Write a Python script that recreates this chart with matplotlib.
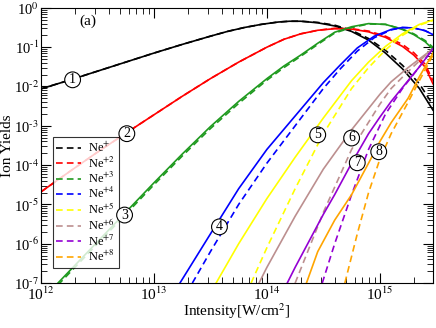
import matplotlib
matplotlib.use("Agg")
import matplotlib.pyplot as plt
from matplotlib.ticker import FuncFormatter
import numpy as np

plt.rcParams['font.family'] = ['Liberation Serif', 'DejaVu Serif']
plt.rcParams['mathtext.fontset'] = 'stix'

# log10 intensity (W/cm^2) and log10 yield
# solid curves
ne1_x = [12.0, 12.25, 12.5, 12.75, 13.0, 13.25, 13.5, 13.65, 13.8, 13.95, 14.1, 14.2, 14.3, 14.45, 14.6, 14.75, 14.9, 15.05, 15.2, 15.35, 15.47]
ne1_y = [-2.06, -1.84, -1.61, -1.38, -1.15, -0.93, -0.72, -0.6, -0.5, -0.42, -0.36, -0.34, -0.34, -0.38, -0.46, -0.6, -0.82, -1.15, -1.55, -2.05, -2.6]
ne2_x = [12.0, 12.25, 12.5, 12.75, 13.0, 13.25, 13.5, 13.75, 14.0, 14.15, 14.3, 14.45, 14.6, 14.75, 14.9, 15.05, 15.2, 15.3, 15.4, 15.47]
ne2_y = [-4.68, -4.17, -3.67, -3.19, -2.72, -2.25, -1.8, -1.38, -1.0, -0.8, -0.66, -0.57, -0.53, -0.54, -0.61, -0.75, -0.98, -1.2, -1.5, -1.93]
ne3_x = [12.15, 12.5, 12.75, 13.0, 13.25, 13.5, 13.75, 14.0, 14.15, 14.3, 14.45, 14.6, 14.75, 14.9, 15.05, 15.2, 15.3, 15.4, 15.47]
ne3_y = [-7.0, -5.95, -5.2, -4.45, -3.72, -3.02, -2.38, -1.8, -1.48, -1.2, -0.9, -0.62, -0.48, -0.4, -0.42, -0.55, -0.68, -0.86, -1.05]
ne4_x = [13.23, 13.5, 13.75, 14.0, 14.25, 14.5, 14.65, 14.8, 14.95, 15.1, 15.2, 15.3, 15.4, 15.47]
ne4_y = [-7.0, -5.75, -4.6, -3.6, -2.75, -1.9, -1.45, -1.02, -0.72, -0.55, -0.5, -0.51, -0.58, -0.68]
ne5_x = [13.55, 13.75, 14.0, 14.25, 14.5, 14.75, 14.9, 15.05, 15.2, 15.35, 15.47]
ne5_y = [-7.0, -6.0, -4.85, -3.8, -2.8, -1.85, -1.38, -0.98, -0.66, -0.42, -0.31]
ne6_x = [13.93, 14.0, 14.25, 14.5, 14.75, 15.0, 15.1, 15.25, 15.35, 15.47]
ne6_y = [-7.0, -6.6, -5.3, -4.1, -3.1, -2.2, -1.88, -1.52, -1.3, -1.04]
ne7_x = [14.18, 14.25, 14.5, 14.6, 14.75, 14.9, 15.0, 15.1, 15.25, 15.35, 15.47]
ne7_y = [-7.0, -6.6, -5.25, -4.75, -3.95, -3.2, -2.78, -2.38, -1.85, -1.5, -1.04]
ne8_x = [14.35, 14.45, 14.6, 14.75, 14.9, 15.0, 15.1, 15.25, 15.35, 15.47]
ne8_y = [-7.0, -6.2, -5.4, -4.75, -3.95, -3.4, -2.92, -2.3, -1.75, -1.15]

# dashed curves
ne1d_x = ne1_x
ne1d_y = [-2.06, -1.84, -1.61, -1.38, -1.15, -0.93, -0.72, -0.6, -0.5, -0.42, -0.36, -0.34, -0.34, -0.37, -0.44, -0.57, -0.78, -1.08, -1.46, -1.93, -2.47]
ne2d_x = ne2_x
ne2d_y = [-4.68, -4.17, -3.67, -3.19, -2.72, -2.25, -1.8, -1.38, -1.0, -0.8, -0.66, -0.57, -0.52, -0.53, -0.59, -0.72, -0.93, -1.14, -1.43, -1.85]
ne3d_x = ne3_x
ne3d_y = [-7.05, -6.0, -5.25, -4.5, -3.77, -3.07, -2.43, -1.84, -1.52, -1.23, -0.93, -0.64, -0.5, -0.41, -0.42, -0.54, -0.66, -0.83, -1.0]
ne4d_x = [13.34, 13.5, 13.75, 14.0, 14.25, 14.5, 14.65, 14.8, 14.95, 15.1, 15.2, 15.3, 15.4, 15.47]
ne4d_y = [-7.0, -6.2, -5.0, -3.95, -3.0, -2.05, -1.55, -1.1, -0.76, -0.56, -0.5, -0.51, -0.58, -0.68]
ne5d_x = [13.86, 14.0, 14.25, 14.5, 14.75, 14.9, 15.05, 15.2, 15.35, 15.47]
ne5d_y = [-7.0, -6.1, -4.6, -3.2, -2.05, -1.52, -1.07, -0.7, -0.44, -0.32]
ne6d_x = [14.25, 14.5, 14.75, 15.0, 15.1, 15.25, 15.35, 15.47]
ne6d_y = [-7.0, -5.2, -3.6, -2.45, -2.05, -1.62, -1.35, -1.04]
ne7d_x = [14.49, 14.6, 14.75, 14.9, 15.05, 15.2, 15.35, 15.47]
ne7d_y = [-7.0, -6.0, -4.75, -3.6, -2.7, -2.05, -1.5, -1.04]
ne8d_x = [14.69, 14.8, 14.9, 15.0, 15.1, 15.25, 15.35, 15.47]
ne8d_y = [-7.0, -5.75, -4.7, -3.85, -3.2, -2.4, -1.85, -1.2]

colors = ['black', 'red', '#1f9a1f', 'blue', '#ffff00', '#bc8f8f', '#9400d3', '#ffa500']
labels = [r'Ne$^{+}$', r'Ne$^{+2}$', r'Ne$^{+3}$', r'Ne$^{+4}$',
          r'Ne$^{+5}$', r'Ne$^{+6}$', r'Ne$^{+7}$', r'Ne$^{+8}$']
solid = [(ne1_x, ne1_y), (ne2_x, ne2_y), (ne3_x, ne3_y), (ne4_x, ne4_y),
         (ne5_x, ne5_y), (ne6_x, ne6_y), (ne7_x, ne7_y), (ne8_x, ne8_y)]
dashed = [(ne1d_x, ne1d_y), (ne2d_x, ne2d_y), (ne3d_x, ne3d_y), (ne4d_x, ne4d_y),
          (ne5d_x, ne5d_y), (ne6d_x, ne6d_y), (ne7d_x, ne7d_y), (ne8d_x, ne8d_y)]

# circled numbers: (log I, log yield)
lab_num = ['1', '2', '3', '4', '5', '6', '7', '8']
lab_x = [12.28, 12.76, 12.74, 13.58, 14.45, 14.75, 14.8, 14.99]
lab_y = [-1.83, -3.2, -5.27, -5.57, -3.23, -3.31, -3.94, -3.66]


def pow10(v, pos):
    e = int(round(np.log10(v)))
    s = str(e) if e >= 0 else '\u2010' + str(-e)
    return '10$^{' + s + '}$'


fig = plt.figure(figsize=(4.36, 3.28), dpi=100)
ax = fig.add_axes([0.094, 0.137, 0.899, 0.839])

for (sx, sy), (dx, dy), c, lab in zip(solid, dashed, colors, labels):
    ax.plot(10.0 ** np.array(sx), 10.0 ** np.array(sy), color=c, lw=1.2)
    ax.plot(10.0 ** np.array(dx), 10.0 ** np.array(dy), color=c, lw=1.2,
            ls=(0, (4, 2.5)), label=lab)

for n, lx, ly in zip(lab_num, lab_x, lab_y):
    ax.text(10 ** lx, 10 ** ly, n, ha='center', va='center', fontsize=10, zorder=6,
            bbox=dict(boxstyle='circle,pad=0.1', fc='white', ec='black', lw=0.8))

ax.set_xscale('log')
ax.set_yscale('log')
ax.set_xlim(1e12, 10 ** 15.47)
ax.set_ylim(1e-7, 1)
ax.xaxis.set_major_formatter(FuncFormatter(pow10))
ax.yaxis.set_major_formatter(FuncFormatter(pow10))
ax.tick_params(which='both', direction='in', top=True, right=True, labelsize=11, pad=2)
ax.tick_params(axis='y', which='both', labelsize=10.5, pad=1.5)
ax.tick_params(which='major', length=7)
ax.tick_params(which='minor', length=4)
ax.set_xlabel(r'Intensity[W/cm$^2$]', fontsize=11, labelpad=-1)
ax.set_ylabel('Ion Yields', fontsize=11)
ax.yaxis.set_label_coords(-0.07, 0.5)
ax.text(0.12, 0.95, '(a)', transform=ax.transAxes, fontsize=11, ha='center', va='center')

leg = ax.legend(loc='lower left', bbox_to_anchor=(0.03, 0.055), fontsize=9, frameon=True,
                fancybox=False, edgecolor='black', handlelength=2.0, labelspacing=0.02,
                borderpad=0.3, handletextpad=0.5, borderaxespad=0)
leg.get_frame().set_linewidth(0.8)

fig.savefig('out.png', dpi=100)
